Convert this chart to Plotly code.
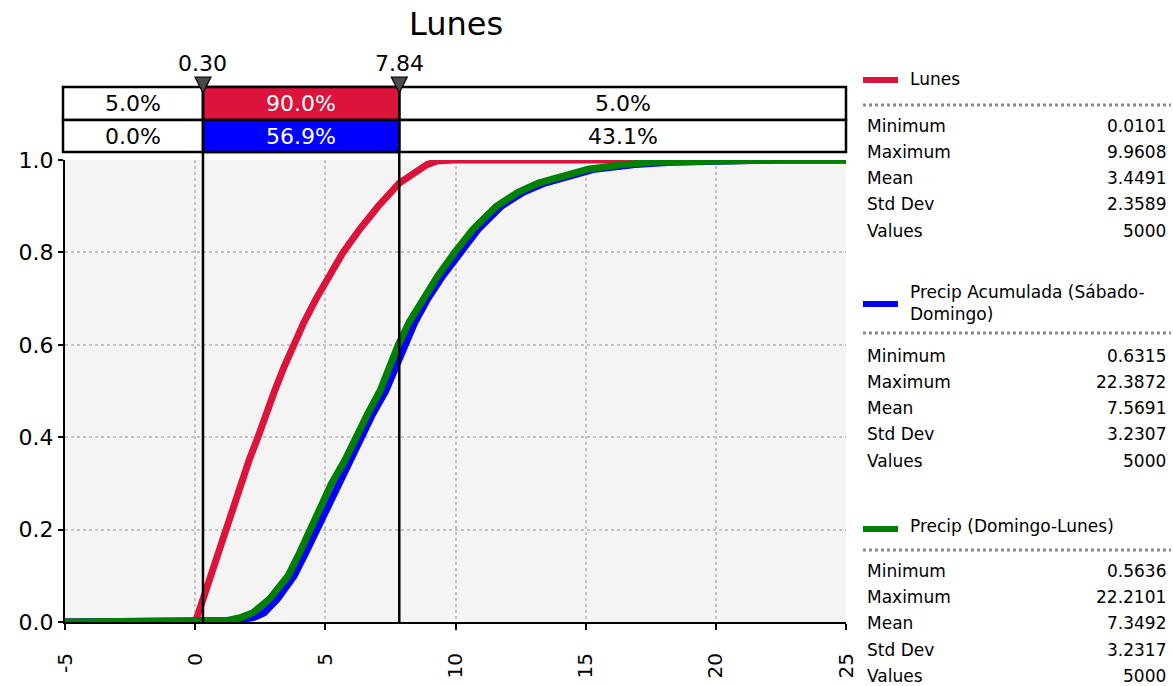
import plotly.graph_objects as go

# ---------------- data ----------------
lunes_x = [-5, 0.01, 0.07, 0.30, 0.60, 0.92, 1.19, 1.47, 1.76, 2.07, 2.41, 2.71, 3.05, 3.40,
           3.76, 4.19, 4.65, 5.15, 5.68, 6.32, 7.03, 7.84, 8.40, 8.90, 9.30, 9.96, 25]
lunes_p = [0, 0, 0.01, 0.05, 0.10, 0.15, 0.20, 0.25, 0.30, 0.35, 0.40, 0.45, 0.50, 0.55,
           0.60, 0.65, 0.70, 0.75, 0.80, 0.85, 0.90, 0.95, 0.97, 0.99, 0.998, 1, 1]

sab_x = [-5, 0.63, 1.62, 2.26, 2.65, 3.16, 3.80, 4.25, 4.68, 5.09, 5.47, 5.96, 6.37, 6.82,
         7.32, 7.84, 8.06, 8.45, 8.94, 9.52, 10.20, 10.87, 11.76, 12.60, 13.43, 14.59,
         15.35, 16.90, 18.30, 22.39, 25]
sab_p = [0, 0, 0.003, 0.01, 0.02, 0.05, 0.10, 0.15, 0.20, 0.25, 0.30, 0.35, 0.40, 0.45,
         0.50, 0.569, 0.60, 0.65, 0.70, 0.75, 0.80, 0.85, 0.90, 0.93, 0.95, 0.97,
         0.98, 0.99, 0.995, 1, 1]

dom_x = [-5, 0.56, 1.20, 1.77, 2.22, 2.86, 3.57, 4.01, 4.43, 4.85, 5.24, 5.75, 6.16, 6.62,
         7.10, 7.45, 7.80, 8.23, 8.75, 9.33, 9.97, 10.67, 11.57, 12.40, 13.18, 14.33,
         15.10, 16.40, 17.65, 22.21, 25]
dom_p = [0, 0, 0.003, 0.01, 0.02, 0.05, 0.10, 0.15, 0.20, 0.25, 0.30, 0.35, 0.40, 0.45,
         0.50, 0.55, 0.60, 0.65, 0.70, 0.75, 0.80, 0.85, 0.90, 0.93, 0.95, 0.97,
         0.98, 0.99, 0.995, 1, 1]

x_ticks = [-5, 0, 5, 10, 15, 20, 25]
x_tick_labels = ["-5", "0", "5", "10", "15", "20", "25"]
y_ticks = [0, 0.2, 0.4, 0.6, 0.8, 1.0]
y_tick_labels = ["0.0", "0.2", "0.4", "0.6", "0.8", "1.0"]

delimiters = [0.30, 7.84]
delimiter_labels = ["0.30", "7.84"]
row1_pct = ["5.0%", "90.0%", "5.0%"]   # Lunes
row2_pct = ["0.0%", "56.9%", "43.1%"]  # Precip Acumulada (Sábado-Domingo)

stat_names = ["Minimum", "Maximum", "Mean", "Std Dev", "Values"]
lunes_stats = ["0.0101", "9.9608", "3.4491", "2.3589", "5000"]
sab_stats = ["0.6315", "22.3872", "7.5691", "3.2307", "5000"]
dom_stats = ["0.5636", "22.2101", "7.3492", "3.2317", "5000"]

series_names = ["Lunes", "Precip Acumulada (Sábado-<br>Domingo)", "Precip (Domingo-Lunes)"]

RED = "#dc143c"
BLUE = "#0000ff"
GREEN = "#008000"
FONT = "DejaVu Sans"

# ---------------- geometry helpers (pixel -> paper) ----------------
W, H = 1173, 686
ML, MR, MT, MB = 65, 327, 160, 64
PW = W - ML - MR
PH = H - MT - MB


def px_x(px):
    return (px - ML) / PW


def px_y(py):
    return (H - MB - py) / PH


fig = go.Figure()
for xs, ps, col, nm in [(lunes_x, lunes_p, RED, "Lunes"),
                        (sab_x, sab_p, BLUE, "Sab"),
                        (dom_x, dom_p, GREEN, "Dom")]:
    fig.add_trace(go.Scatter(x=xs, y=ps, mode="lines", name=nm,
                             line=dict(color=col, width=7), showlegend=False,
                             hoverinfo="skip"))

shapes = []
annotations = []

# table rows
y_top, y_mid, y_bot = px_y(87), px_y(120), px_y(152)
for (y0, y1) in [(y_mid, y_top), (y_bot, y_mid)]:
    shapes.append(dict(type="rect", xref="paper", yref="paper", x0=px_x(63), x1=px_x(846),
                       y0=y0, y1=y1, fillcolor="white", line=dict(color="black", width=2.5),
                       layer="above"))
shapes.append(dict(type="rect", xref="x", yref="paper", x0=delimiters[0], x1=delimiters[1],
                   y0=y_mid, y1=y_top, fillcolor=RED, line=dict(color="black", width=2.5),
                   layer="above"))
shapes.append(dict(type="rect", xref="x", yref="paper", x0=delimiters[0], x1=delimiters[1],
                   y0=y_bot, y1=y_mid, fillcolor=BLUE, line=dict(color="black", width=2.5),
                   layer="above"))
for d in delimiters:
    shapes.append(dict(type="line", xref="x", yref="paper", x0=d, x1=d, y0=0, y1=y_top,
                       line=dict(color="black", width=2.5), layer="above"))
    # downward triangle marker (pixel-sized, anchored at the delimiter)
    shapes.append(dict(type="path", xref="x", yref="paper", xsizemode="pixel",
                       ysizemode="pixel", xanchor=d, yanchor=y_top,
                       path="M -8 10 L 8 10 L 0 -6 Z", fillcolor="#4a4a4a",
                       line=dict(color="black", width=1.2), layer="above"))

cell_centers = [(-5 + delimiters[0]) / 2 - 0.04, (delimiters[0] + delimiters[1]) / 2,
                (delimiters[1] + 25) / 2]
for i, c in enumerate(cell_centers):
    col = "white" if i == 1 else "black"
    annotations.append(dict(x=c, xref="x", y=(y_mid + y_top) / 2, yref="paper",
                            text=row1_pct[i], showarrow=False, yanchor="middle",
                            xanchor="center",
                            font=dict(family=FONT, size=22, color=col)))
    annotations.append(dict(x=c, xref="x", y=(y_bot + y_mid) / 2, yref="paper",
                            text=row2_pct[i], showarrow=False, yanchor="middle",
                            xanchor="center",
                            font=dict(family=FONT, size=22, color=col)))

for d, lab in zip(delimiters, delimiter_labels):
    annotations.append(dict(x=d, xref="x", y=px_y(63), yref="paper", text=lab,
                            showarrow=False, yanchor="middle", xanchor="center",
                            font=dict(family=FONT, size=22, color="black")))

# legend / statistics panel
groups = [
    (series_names[0], RED, lunes_stats, 79, 80, 105, [126, 152, 178, 204, 231]),
    (series_names[1], BLUE, sab_stats, 303, 304, 333, [356, 382, 408, 434, 461]),
    (series_names[2], GREEN, dom_stats, 526, 529, 550, [571, 597, 623, 650, 676]),
]
for name, col, stats, ty, ly, sy, rows in groups:
    shapes.append(dict(type="line", xref="paper", yref="paper", x0=px_x(863), x1=px_x(898),
                       y0=px_y(ly), y1=px_y(ly), line=dict(color=col, width=6)))
    annotations.append(dict(x=px_x(908), xref="paper", y=px_y(ty), yref="paper", text=name,
                            showarrow=False, xanchor="left", yanchor="middle", align="left",
                            font=dict(family=FONT, size=17, color="black")))
    shapes.append(dict(type="line", xref="paper", yref="paper", x0=px_x(863), x1=px_x(1171),
                       y0=px_y(sy), y1=px_y(sy), line=dict(color="#8a8a8a", width=3, dash="dot")))
    for nm, val, ry in zip(stat_names, stats, rows):
        annotations.append(dict(x=px_x(865), xref="paper", y=px_y(ry), yref="paper", text=nm,
                                showarrow=False, xanchor="left", yanchor="middle",
                                font=dict(family=FONT, size=17, color="black")))
        annotations.append(dict(x=px_x(1168), xref="paper", y=px_y(ry), yref="paper", text=val,
                                showarrow=False, xanchor="right", yanchor="middle",
                                font=dict(family=FONT, size=17, color="black")))

fig.update_layout(
    width=W, height=H,
    margin=dict(l=ML, r=MR, t=MT, b=MB),
    paper_bgcolor="white", plot_bgcolor="#f4f4f4",
    title=dict(text="Lunes", x=px_x(456), xref="paper", xanchor="center",
               y=1 - 24 / H, yref="container", yanchor="middle", automargin=False,
               font=dict(family=FONT, size=32, color="black")),
    shapes=shapes, annotations=annotations, showlegend=False,
    xaxis=dict(range=[-5, 25], tickvals=x_ticks, ticktext=x_tick_labels, tickangle=-90,
               ticks="outside", ticklen=6, tickwidth=2, tickcolor="black",
               ticklabelstandoff=15, automargin=False,
               showline=True, linecolor="black", linewidth=2,
               showgrid=True, gridcolor="#c4c4c4", griddash="dot", gridwidth=1.5,
               zeroline=False, tickfont=dict(family=FONT, size=20, color="black")),
    yaxis=dict(range=[0, 1], tickvals=y_ticks, ticktext=y_tick_labels, automargin=False,
               ticks="outside", ticklen=5, tickwidth=2, tickcolor="black",
               showline=True, linecolor="black", linewidth=2,
               showgrid=True, gridcolor="#c4c4c4", griddash="dot", gridwidth=1.5,
               zeroline=False, tickfont=dict(family=FONT, size=22, color="black")),
)

fig.write_html("out.html")
